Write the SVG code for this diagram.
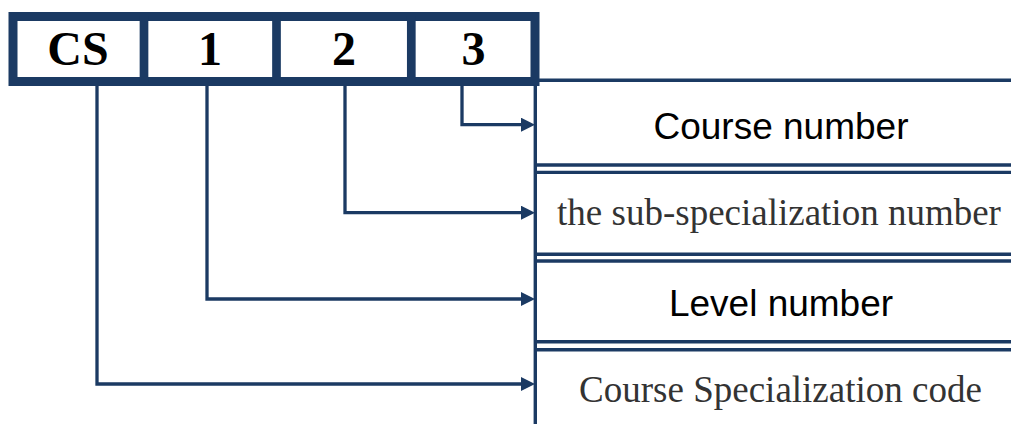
<svg xmlns="http://www.w3.org/2000/svg" width="1011" height="424" viewBox="0 0 1011 424">
  <style>
    .navy { stroke: #1b3a63; fill: none; }
    .bar { stroke: #1b3a63; stroke-width: 3.4; fill: none; }
    .conn { stroke: #1b3a63; stroke-width: 3.3; fill: none; }
    .code { font-family: "Liberation Serif", "Times New Roman", serif; font-weight: bold; font-size: 48px; fill: #000; text-anchor: middle; }
    .sans { font-family: "Liberation Sans", Arial, sans-serif; font-size: 37px; fill: #000; text-anchor: middle; }
    .serif { font-family: "Liberation Serif", "Times New Roman", serif; font-size: 37px; fill: #333; text-anchor: middle; }
  </style>
  <defs>
    <marker id="arrow" markerUnits="userSpaceOnUse" markerWidth="14" markerHeight="14" refX="7" refY="7" orient="auto">
      <path d="M0,0 L14,7 L0,14 Z" fill="#1b3a63"/>
    </marker>
  </defs>
  <rect width="1011" height="424" fill="#fff"/>

  <g id="code-box">
    <rect class="navy" x="13" y="16.5" width="522" height="65" stroke-width="9"/>
    <line class="navy" x1="144" y1="16" x2="144" y2="82" stroke-width="8.7"/>
    <line class="navy" x1="276.5" y1="16" x2="276.5" y2="82" stroke-width="8.7"/>
    <line class="navy" x1="411.3" y1="16" x2="411.3" y2="82" stroke-width="8.7"/>
    <text class="code" x="78" y="65">CS</text>
    <text class="code" x="210" y="65">1</text>
    <text class="code" x="344" y="65">2</text>
    <text class="code" x="473.5" y="65">3</text>
  </g>

  <g id="table">
    <line class="bar" x1="535.3" y1="84" x2="535.3" y2="424"/>
    <line class="bar" x1="537" y1="80.3" x2="1011" y2="80.3"/>
    <line class="bar" x1="537" y1="165" x2="1011" y2="165"/>
    <line class="bar" x1="537" y1="172.4" x2="1011" y2="172.4"/>
    <line class="bar" x1="537" y1="254.3" x2="1011" y2="254.3"/>
    <line class="bar" x1="537" y1="261" x2="1011" y2="261"/>
    <line class="bar" x1="537" y1="341.7" x2="1011" y2="341.7"/>
    <line class="bar" x1="537" y1="349.7" x2="1011" y2="349.7"/>
  </g>

  <g id="course-number">
    <text class="sans" x="781" y="139">Course number</text>
  </g>
  <g id="sub-specialization">
    <text class="serif" x="779" y="225">the sub-specialization number</text>
  </g>
  <g id="level-number">
    <text class="sans" x="781" y="316">Level number</text>
  </g>
  <g id="specialization-code">
    <text class="serif" x="780.5" y="401.5">Course Specialization code</text>
  </g>

  <g id="connectors">
    <path class="conn" d="M462,86 V124.7 H528" marker-end="url(#arrow)"/>
    <path class="conn" d="M345,86 V212.7 H528" marker-end="url(#arrow)"/>
    <path class="conn" d="M207,86 V299 H528" marker-end="url(#arrow)"/>
    <path class="conn" d="M97,86 V384 H528" marker-end="url(#arrow)"/>
  </g>
</svg>
